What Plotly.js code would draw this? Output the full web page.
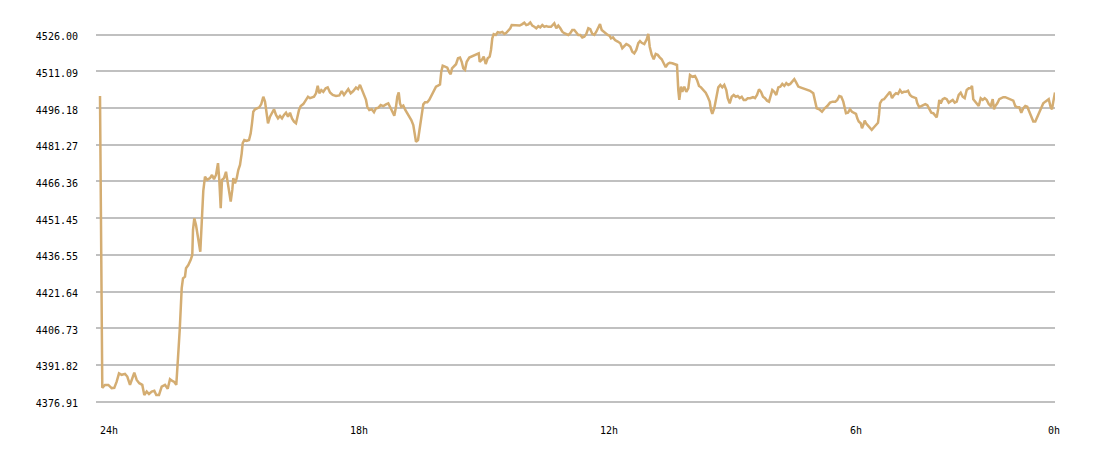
<!DOCTYPE html>
<html>
<head>
<meta charset="utf-8">
<script src="https://cdn.plot.ly/plotly-3.0.1.min.js"></script>
<style>
html,body{margin:0;padding:0;background:#fff;}
#chart{width:1100px;height:458px;}
</style>
</head>
<body>
<div id="chart"></div>
<script>
// hours before now
const hoursAgo = [24.000,23.990,23.960,23.945,23.880,23.800,23.720,23.657,23.600,23.544,23.479,23.400,23.345,23.280,23.239,23.177,23.119,23.057,22.985,22.937,22.879,22.824,22.759,22.697,22.649,22.584,22.519,22.440,22.375,22.320,22.265,22.217,22.169,22.152,22.121,22.087,22.063,22.039,22.008,21.960,21.936,21.881,21.823,21.785,21.768,21.737,21.696,21.655,21.617,21.593,21.559,21.521,21.480,21.425,21.360,21.312,21.264,21.216,21.168,21.137,21.103,21.072,21.024,20.976,20.945,20.904,20.863,20.825,20.801,20.760,20.719,20.681,20.640,20.599,20.575,20.537,20.479,20.424,20.383,20.352,20.321,20.280,20.225,20.177,20.129,20.081,20.040,19.999,19.968,19.920,19.872,19.824,19.776,19.728,19.680,19.632,19.584,19.536,19.488,19.440,19.392,19.344,19.296,19.265,19.224,19.183,19.121,19.056,19.008,18.960,18.912,18.864,18.816,18.775,18.737,18.689,18.641,18.583,18.535,18.480,18.415,18.336,18.257,18.199,18.144,18.079,18.041,17.983,17.921,17.856,17.808,17.760,17.712,17.664,17.616,17.585,17.537,17.479,17.424,17.376,17.321,17.263,17.201,17.136,17.081,17.023,16.975,16.937,16.896,16.865,16.831,16.800,16.769,16.721,16.673,16.625,16.577,16.529,16.481,16.447,16.416,16.368,16.320,16.279,16.241,16.200,16.145,16.097,16.039,15.984,15.936,15.888,15.840,15.809,15.775,15.720,15.665,15.617,15.583,15.552,15.504,15.456,15.408,15.360,15.319,15.281,15.240,15.199,15.137,15.079,15.024,14.959,14.911,14.887,14.839,14.791,14.743,14.695,14.647,14.616,14.585,14.551,14.503,14.455,14.400,14.345,14.297,14.249,14.201,14.153,14.119,14.057,13.992,13.927,13.865,13.817,13.769,13.721,13.673,13.625,13.577,13.529,13.481,13.433,13.385,13.337,13.289,13.241,13.176,13.128,13.097,13.049,13.001,12.953,12.905,12.857,12.809,12.761,12.713,12.665,12.617,12.569,12.521,12.473,12.425,12.377,12.329,12.281,12.233,12.185,12.137,12.089,12.041,12.000,11.959,11.911,11.863,11.815,11.767,11.736,11.688,11.640,11.575,11.513,11.465,11.417,11.369,11.321,11.273,11.225,11.177,11.129,11.081,11.040,10.999,10.937,10.879,10.841,10.807,10.759,10.711,10.663,10.615,10.567,10.519,10.471,10.423,10.375,10.327,10.265,10.200,10.152,10.121,10.097,10.056,10.025,9.977,9.929,9.881,9.840,9.785,9.720,9.672,9.624,9.576,9.521,9.463,9.415,9.367,9.336,9.305,9.257,9.209,9.161,9.113,9.065,9.017,8.969,8.935,8.887,8.839,8.791,8.743,8.695,8.647,8.599,8.551,8.503,8.455,8.393,8.328,8.280,8.232,8.184,8.136,8.088,8.040,7.992,7.944,7.896,7.865,7.817,7.769,7.721,7.673,7.625,7.577,7.529,7.481,7.433,7.385,7.337,7.289,7.241,7.193,7.121,7.039,6.960,6.881,6.840,6.799,6.737,6.672,6.607,6.545,6.480,6.415,6.353,6.305,6.257,6.209,6.161,6.127,6.096,6.048,6.000,5.952,5.904,5.856,5.825,5.791,5.743,5.712,5.681,5.647,5.616,5.568,5.520,5.479,5.424,5.376,5.328,5.304,5.280,5.232,5.184,5.136,5.088,5.040,4.992,4.944,4.896,4.848,4.800,4.752,4.704,4.656,4.608,4.560,4.512,4.464,4.416,4.385,4.337,4.289,4.241,4.193,4.145,4.097,4.049,4.001,3.953,3.919,3.888,3.857,3.823,3.775,3.727,3.679,3.631,3.583,3.535,3.487,3.439,3.391,3.343,3.295,3.247,3.199,3.151,3.103,3.072,3.041,2.993,2.945,2.911,2.863,2.815,2.767,2.719,2.671,2.623,2.575,2.544,2.513,2.465,2.417,2.369,2.321,2.273,2.225,2.177,2.129,2.081,2.033,1.985,1.937,1.889,1.841,1.793,1.745,1.697,1.649,1.601,1.553,1.505,1.457,1.409,1.361,1.313,1.265,1.231,1.183,1.152,1.121,1.087,1.080];

const price = [4501.1,4471.8,4412.1,4382.5,
4383.7,4383.7,4382.4,4382.5,4385.0,4388.4,4387.8,4388.2,4387.1,4383.7,4385.7,4388.7,4385.7,4384.4,4383.7,4379.6,4381.0,4380.0,4381.0,4381.3,4379.6,4379.6,4383.0,4383.7,4382.1,4386.0,4385.3,4384.9,4383.7,4389.8,4396.6,4406.0,4414.2,4423.0,4427.0,4427.7,4431.1,4432.4,4434.5,4436.5,4446.7,4451.4,4448.7,4443.9,4439.9,4437.8,
4449.5,4462.5,4468.3,4467.0,4467.7,4469.0,4467.3,4469.0,4473.8,4467.0,4455.5,4467.0,4467.7,4470.3,4467.0,4461.6,4458.2,4462.9,4467.7,4465.6,4467.7,4471.0,4473.1,4477.8,4481.9,4483.2,4482.8,4483.2,4485.9,4490.0,4494.7,4495.7,4496.1,4496.5,4497.8,4500.8,4498.8,4494.1,4490.0,4492.7,4494.3,4495.7,4493.4,4492.0,4493.0,4492.0,4493.4,4494.3,4492.7,4494.3,
4492.0,4490.7,4490.0,4492.7,4495.4,4497.0,4497.8,4499.5,4500.8,4500.2,4500.6,4500.8,4502.2,4505.2,4502.2,4503.5,4502.8,4504.2,4504.6,4502.5,4501.5,4501.1,4501.3,4503.1,4501.5,4503.1,4503.9,4502.2,4503.1,4504.5,4503.9,4505.6,4503.5,4500.8,4499.5,4496.7,4495.4,4495.7,4494.5,4496.1,4496.3,4497.4,4497.0,4497.7,4498.1,4496.1,4494.1,4493.1,4496.7,4500.8,
4502.6,4498.1,4496.7,4497.2,4495.4,4494.1,4492.3,4491.3,4489.3,4485.9,4482.5,4483.2,4488.0,4493.4,4497.7,4498.5,4498.5,4499.5,4501.5,4503.9,4504.9,4505.3,4505.8,4511.0,4513.4,4513.0,4512.6,4510.7,4509.9,4512.3,4513.0,4514.0,4516.4,4516.7,4515.0,4512.3,4511.7,4515.0,4516.7,4517.1,4517.5,4518.0,4518.4,4515.0,4515.7,4517.1,4514.1,4516.4,4517.1,4519.8,
4524.5,4526.2,4525.9,4527.0,4526.8,4527.1,4526.3,4526.8,4527.6,4528.6,4529.9,4529.9,4529.7,4529.7,4530.3,4530.9,4529.9,4530.2,4531.0,4529.7,4529.2,4528.6,4529.5,4529.0,4529.9,4529.2,4529.5,4529.2,4529.2,4529.9,4530.6,4528.6,4529.7,4528.6,4527.2,4526.6,4526.3,4525.9,4526.6,4527.9,4527.9,4526.8,4525.9,4525.9,4524.9,4525.2,4526.3,4528.6,4528.2,4526.3,
4525.9,4527.2,4528.6,4530.3,4527.9,4527.2,4526.8,4525.9,4525.5,4524.5,4524.9,4523.8,4523.2,4522.5,4520.5,4521.4,4522.2,4521.8,4521.1,4519.1,4518.4,4519.8,4522.6,4523.4,4522.7,4522.2,4524.1,4526.3,4521.1,4517.8,4516.0,4518.2,4517.8,4516.8,4516.0,4514.4,4512.8,4514.1,4514.6,4514.4,4514.1,4513.7,4503.5,4499.5,4504.9,4502.8,4504.9,4502.8,4504.2,4509.6,
4508.9,4509.2,4507.6,4505.2,4504.6,4503.5,4502.4,4500.8,4498.8,4495.4,4493.8,4496.1,4500.8,4504.6,4505.6,4504.6,4505.6,4503.5,4500.2,4498.1,4500.8,4501.5,4500.8,4501.1,4500.2,4500.8,4499.5,4499.5,4500.2,4500.2,4500.6,4500.2,4501.5,4503.8,4502.8,4500.8,4500.2,4499.2,4498.8,4501.5,4503.5,4502.8,4501.5,4504.6,4504.9,4506.0,4505.2,4506.3,4505.6,4506.0,
4506.9,4507.9,4506.5,4504.9,4504.6,4504.2,4503.8,4503.2,4502.2,4499.5,4496.1,4495.7,4494.7,4496.1,4497.0,4498.4,4498.8,4498.8,4499.5,4501.1,4500.8,4498.8,4496.7,4494.1,4494.3,4495.7,4494.7,4494.1,4493.8,4492.0,4490.7,4490.0,4488.0,4489.3,4491.1,4490.0,4488.9,4488.0,4487.3,4488.4,4489.3,4490.2,4493.4,4498.1,4499.5,4499.8,4500.8,4501.9,4502.8,4500.2,
4501.5,4502.2,4501.9,4503.5,4502.4,4502.8,4502.8,4503.2,4501.5,4500.8,4500.6,4500.2,4498.1,4496.5,4497.0,4497.4,4497.8,4497.4,4495.7,4494.3,4494.1,4493.0,4492.4,4495.4,4499.5,4498.1,4499.8,4500.2,4499.8,4498.4,4498.8,4499.5,4498.4,4498.8,4501.5,4502.4,4500.8,4500.2,4503.5,4504.2,4504.2,4505.2,4499.8,4498.8,4498.1,4497.0,4500.2,4499.5,4500.2,4499.5,
4497.8,4497.0,4499.8,4495.7,4497.0,4498.1,4499.8,4500.2,4500.6,4500.6,4500.2,4499.8,4499.5,4499.2,4497.0,4496.5,4496.5,4494.3,4496.1,4497.0,4496.7,4494.7,4492.0,4490.7,4490.7,4492.7,4494.7,4496.5,4498.1,4498.8,4499.2,4499.8,4496.5,4495.7,4498.8,4501.5,4502.5];

const yTickVals = [4376.91,4391.82,4406.73,4421.64,4436.55,4451.45,4466.36,4481.27,4496.18,4511.09,4526.00];
const yTickText = ['4376.91','4391.82','4406.73','4421.64','4436.55','4451.45','4466.36','4481.27','4496.18','4511.09','4526.00'];
const xTickVals = [24, 18, 12, 6, 1.25];
const xTickText = ['24h','18h','12h','6h','0h'];

const trace = {
  x: hoursAgo,
  y: price,
  type: 'scatter',
  mode: 'lines',
  line: {color: '#d4ad72', width: 2.5},
  hoverinfo: 'skip'
};

const layout = {
  width: 1100,
  height: 458,
  margin: {l: 96, r: 45, t: 15, b: 48, pad: 0},
  paper_bgcolor: '#ffffff',
  plot_bgcolor: '#ffffff',
  showlegend: false,
  font: {family: '"DejaVu Sans Mono", monospace', size: 10, color: '#000000'},
  xaxis: {
    range: [24.096, 1.08],
    showgrid: false,
    zeroline: false,
    showline: false,
    tickmode: 'array',
    tickvals: xTickVals,
    ticktext: xTickText,
    ticks: '',
    ticklabelposition: 'outside right',
    ticklabelstandoff: 13,
    tickfont: {family: '"DejaVu Sans Mono", monospace', size: 10, color: '#000'}
  },
  yaxis: {
    range: [4373.5, 4534.0],
    showgrid: true,
    gridcolor: '#c0c0c0',
    gridwidth: 2,
    zeroline: false,
    showline: false,
    tickmode: 'array',
    tickvals: yTickVals,
    ticktext: yTickText,
    ticks: '',
    ticklabelstandoff: 17,
    ticklabelshift: 2,
    tickfont: {family: '"DejaVu Sans Mono", monospace', size: 10, color: '#000'}
  }
};

Plotly.newPlot('chart', [trace], layout, {staticPlot: true, displayModeBar: false});
</script>
</body>
</html>
